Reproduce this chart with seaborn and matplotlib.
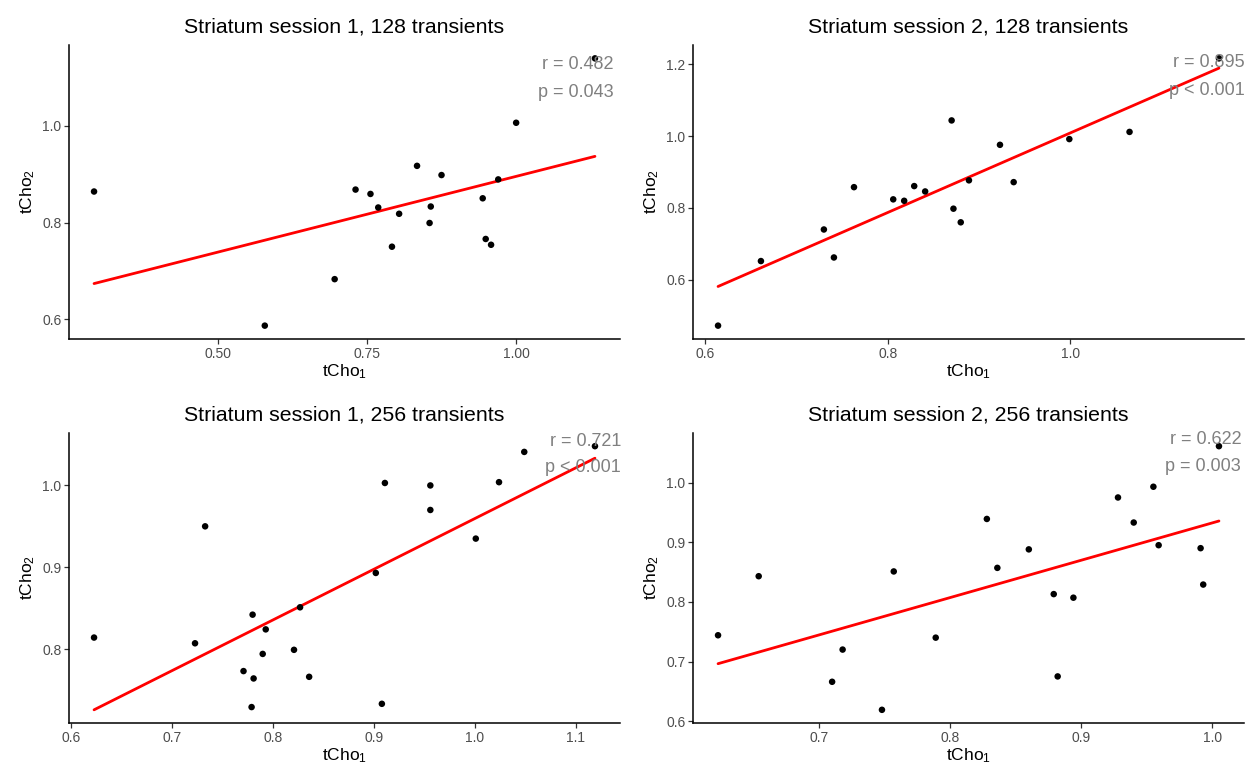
import numpy as np
import pandas as pd
import seaborn as sns
import matplotlib
matplotlib.use("Agg")
import matplotlib.pyplot as plt
from matplotlib.ticker import MultipleLocator, FormatStrFormatter

# ---- data ----
s1_128_x = [0.293, 0.579, 0.696, 0.731, 0.756, 0.769, 0.804, 0.792, 0.834, 0.857,
            0.855, 0.875, 0.944, 0.949, 0.958, 0.970, 1.000, 1.132]
s1_128_y = [0.864, 0.587, 0.683, 0.868, 0.859, 0.831, 0.818, 0.750, 0.917, 0.833,
            0.799, 0.898, 0.850, 0.766, 0.754, 0.889, 1.006, 1.139]

s2_128_x = [0.614, 0.661, 0.730, 0.741, 0.763, 0.806, 0.818, 0.829, 0.841, 0.870,
            0.872, 0.880, 0.889, 0.923, 0.938, 0.999, 1.065, 1.163]
s2_128_y = [0.472, 0.652, 0.740, 0.662, 0.858, 0.824, 0.820, 0.861, 0.846, 1.044,
            0.798, 0.760, 0.877, 0.976, 0.872, 0.992, 1.012, 1.217]

s1_256_x = [0.623, 0.723, 0.733, 0.771, 0.780, 0.781, 0.779, 0.790, 0.793, 0.821,
            0.827, 0.836, 0.902, 0.911, 0.908, 0.956, 0.956, 1.001, 1.024, 1.049, 1.119]
s1_256_y = [0.814, 0.807, 0.950, 0.773, 0.842, 0.764, 0.729, 0.794, 0.824, 0.799,
            0.851, 0.766, 0.893, 1.003, 0.733, 1.000, 0.970, 0.935, 1.004, 1.041, 1.048]

s2_256_x = [0.623, 0.654, 0.710, 0.718, 0.748, 0.757, 0.789, 0.828, 0.836, 0.860,
            0.879, 0.882, 0.894, 0.928, 0.940, 0.955, 0.959, 0.991, 0.993, 1.005]
s2_256_y = [0.744, 0.843, 0.666, 0.720, 0.619, 0.851, 0.740, 0.939, 0.857, 0.888,
            0.813, 0.675, 0.807, 0.975, 0.933, 0.993, 0.895, 0.890, 0.829, 1.061]

titles = ["Striatum session 1, 128 transients", "Striatum session 2, 128 transients",
          "Striatum session 1, 256 transients", "Striatum session 2, 256 transients"]
r_labels = ["r = 0.482", "r = 0.895", "r = 0.721", "r = 0.622"]
p_labels = ["p = 0.043", "p < 0.001", "p < 0.001", "p = 0.003"]

panels = [(s1_128_x, s1_128_y), (s2_128_x, s2_128_y),
          (s1_256_x, s1_256_y), (s2_256_x, s2_256_y)]

# ---- style ----
sns.set_style("white")
plt.rcParams['font.family'] = ['Liberation Sans', 'DejaVu Sans']
plt.rcParams['mathtext.fontset'] = 'custom'
plt.rcParams['mathtext.rm'] = 'Liberation Sans'
plt.rcParams['mathtext.it'] = 'Liberation Sans:italic'

W, H = 1254, 768
fig = plt.figure(figsize=(W / 100, H / 100), dpi=100)

boxes = [(69, 45, 620, 339), (693, 45, 1244, 339),
         (69, 433, 620, 723), (693, 433, 1244, 723)]
x_steps = [0.25, 0.2, 0.1, 0.1]
y_steps = [0.2, 0.2, 0.1, 0.1]
x_fmts = ['%.2f', '%.1f', '%.1f', '%.1f']
text_x = [0.988, 1.002, 1.002, 0.995]
text_y = [(0.935, 0.84), (0.94, 0.845), (0.972, 0.882), (0.979, 0.886)]

for i, ((xs, ys), (l, t, r, b)) in enumerate(zip(panels, boxes)):
    ax = fig.add_axes([l / W, 1 - b / H, (r - l) / W, (b - t) / H])
    df = pd.DataFrame({"x": xs, "y": ys})
    sns.regplot(data=df, x="x", y="y", ax=ax, ci=None,
                scatter_kws=dict(s=22, color="black", edgecolor="none",
                                 alpha=1.0, zorder=3),
                line_kws=dict(color="#FF0000", lw=2.0, zorder=2))
    ax.set_title(titles[i], fontsize=15.3, pad=9, color="black")
    ax.set_xlabel("tCho$_1$", fontsize=12.5, labelpad=1, color="black")
    ax.set_ylabel("tCho$_2$", fontsize=12.5, labelpad=4, color="black")
    ax.xaxis.set_major_locator(MultipleLocator(x_steps[i]))
    ax.yaxis.set_major_locator(MultipleLocator(y_steps[i]))
    ax.xaxis.set_major_formatter(FormatStrFormatter(x_fmts[i]))
    ax.yaxis.set_major_formatter(FormatStrFormatter('%.1f'))
    for side in ["top", "right"]:
        ax.spines[side].set_visible(False)
    for side in ["left", "bottom"]:
        ax.spines[side].set_color("black")
        ax.spines[side].set_linewidth(1.1)
    ax.tick_params(axis="both", which="major", direction="out", length=3.5,
                   width=0.9, color="#333333", labelsize=10, labelcolor="#4D4D4D",
                   bottom=True, left=True, pad=2)
    ax.margins(0.05)
    ax.text(text_x[i], text_y[i][0], r_labels[i], transform=ax.transAxes,
            ha="right", va="center", fontsize=13, color="#808080")
    ax.text(text_x[i], text_y[i][1], p_labels[i], transform=ax.transAxes,
            ha="right", va="center", fontsize=13, color="#808080")

fig.savefig("out.png", dpi=100)
